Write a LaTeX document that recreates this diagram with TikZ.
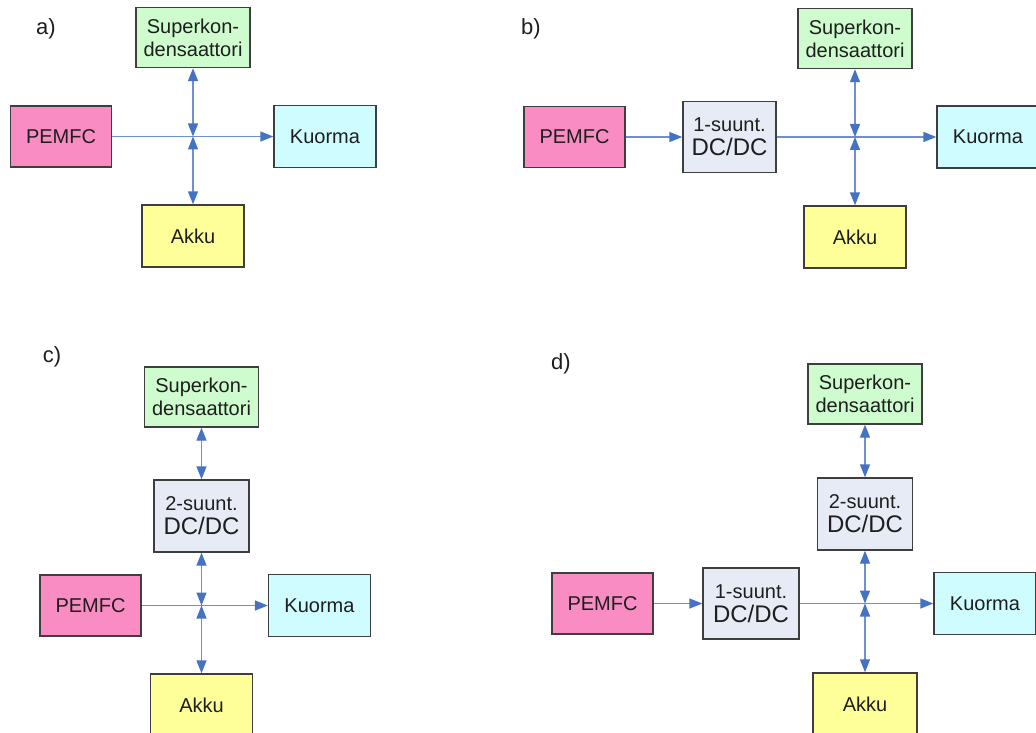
\documentclass[tikz,border=0pt]{standalone}
\usepackage{fontspec}
\setmainfont{Liberation Sans}
\usetikzlibrary{arrows.meta}

\definecolor{pemfcfill}{RGB}{250,140,196}
\definecolor{superkfill}{RGB}{206,252,206}
\definecolor{kuormafill}{RGB}{206,252,255}
\definecolor{akkufill}{RGB}{255,255,153}
\definecolor{dcdcfill}{RGB}{231,235,245}
\definecolor{boxline}{RGB}{62,62,62}
\definecolor{flowline}{RGB}{112,142,212}
\definecolor{flowtip}{RGB}{70,114,196}
\definecolor{txt}{RGB}{30,30,30}

\tikzset{
  blk/.style={draw=boxline, line width=1.4pt, inner sep=0pt, align=center,
    text=txt, font=\fontsize{20}{23}\selectfont},
  pem/.style={blk, fill=pemfcfill, minimum width=101pt, minimum height=61pt},
  sk/.style={blk, fill=superkfill, minimum width=114pt, minimum height=60pt},
  kuo/.style={blk, fill=kuormafill, minimum width=102pt, minimum height=62pt},
  akk/.style={blk, fill=akkufill, minimum width=102pt, minimum height=62pt},
  conv/.style={blk, fill=dcdcfill, minimum width=95pt, minimum height=71pt},
  tag/.style={font=\fontsize{22}{25}\selectfont, text=txt, inner sep=0pt},
  tip/.tip={Triangle[length=13pt, width=10pt, color=flowtip]},
  flow/.style={draw=flowline, line width=1.4pt, -tip},
  flow2/.style={draw=flowline, line width=1.4pt, tip-tip}
}

\newcommand{\skText}{Superkon-\\densaattori}
\newcommand{\convText}[1]{#1-suunt.\\[1pt]{\fontsize{24}{26}\selectfont DC/DC}}

\begin{document}
\begin{tikzpicture}[x=1pt, y=-1pt]
\useasboundingbox (0,0) rectangle (1036,733);
\clip (0,0) rectangle (1036,733);
\fill[white] (0,0) rectangle (1036,733);

% ---- a) direct connection
\node[tag] (la) at (46,29) {a)};
\coordinate (ja) at (193,136.5);
\node[sk]  (ska) at (193,37.5) {\skText};
\node[pem] (pa)  at (61,136.5) {PEMFC};
\node[kuo] (ka)  at (325,136.5) {Kuorma};
\node[akk] (aa)  at (193,236) {Akku};
\draw[flow]  (pa) -- (ka);
\draw[flow2] (ska) -- (ja);
\draw[flow2] (ja) -- (aa);

% ---- b) unidirectional converter after the fuel cell
\node[tag] (lb) at (531,29) {b)};
\coordinate (jb) at (855,137);
\node[sk]   (skb) at (855,38.5) {\skText};
\node[pem]  (pb)  at (574.5,137) {PEMFC};
\node[conv, minimum width=93pt] (cb) at (729.5,137) {\convText{1}};
\node[kuo]  (kb)  at (988,137) {Kuorma};
\node[akk]  (ab)  at (855,237) {Akku};
\draw[flow]  (pb) -- (cb);
\draw[flow]  (cb) -- (kb);
\draw[flow2] (skb) -- (jb);
\draw[flow2] (jb) -- (ab);

% ---- c) bidirectional converter for the supercapacitor
\node[tag] (lc) at (52,357) {c)};
\coordinate (jc) at (201.5,605.5);
\node[sk]   (skc) at (201.5,397) {\skText};
\node[conv, minimum height=72pt] (cc) at (201.5,516) {\convText{2}};
\node[pem]  (pc)  at (90.5,605.5) {PEMFC};
\node[kuo]  (kc)  at (319.5,605.5) {Kuorma};
\node[akk]  (ac)  at (201.5,705) {Akku};
\draw[flow]  (pc) -- (kc);
\draw[flow2] (skc) -- (cc);
\draw[flow2] (cc) -- (jc);
\draw[flow2] (jc) -- (ac);

% ---- d) both converters
\node[tag] (ld) at (561,364) {d)};
\coordinate (jd) at (865,603.5);
\node[sk]   (skd) at (865,394) {\skText};
\node[conv, minimum height=72pt] (c2d) at (865,514) {\convText{2}};
\node[pem]  (pd)  at (602.5,603.5) {PEMFC};
\node[conv, minimum width=96pt] (c1d) at (751,603.5) {\convText{1}};
\node[kuo]  (kd)  at (985,603.5) {Kuorma};
\node[akk, minimum width=104pt] (ad) at (865,704) {Akku};
\draw[flow]  (pd) -- (c1d);
\draw[flow]  (c1d) -- (kd);
\draw[flow2] (skd) -- (c2d);
\draw[flow2] (c2d) -- (jd);
\draw[flow2] (jd) -- (ad);
\end{tikzpicture}
\end{document}
